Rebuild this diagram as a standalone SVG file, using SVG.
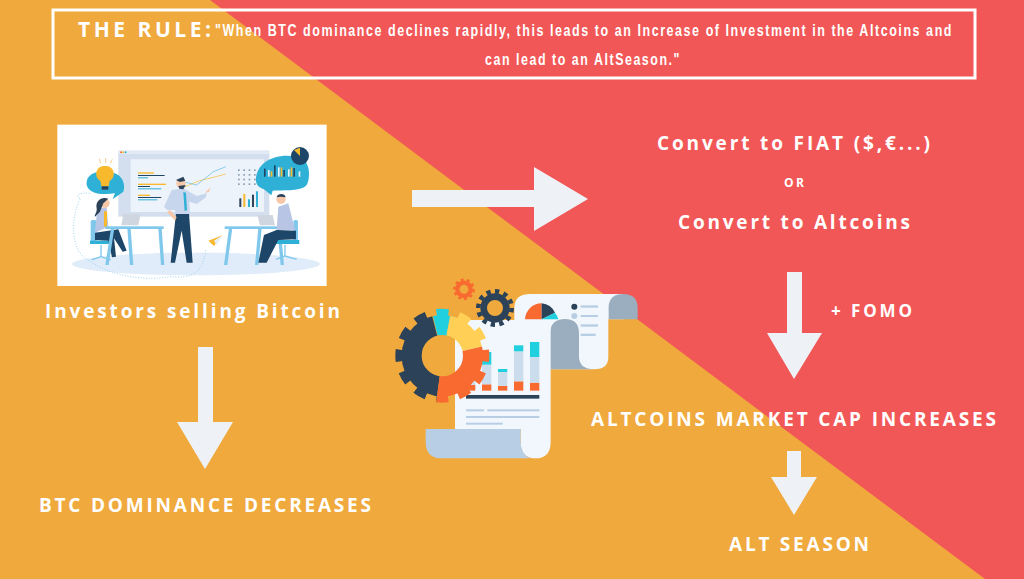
<svg xmlns="http://www.w3.org/2000/svg" width="1024" height="579" viewBox="0 0 1024 579">
<style>
.lb{font-family:"Open Sans","Liberation Sans",sans-serif;font-weight:700;fill:#fff;font-size:19px}
.q{font-family:"Liberation Sans",sans-serif;font-weight:700;fill:#fff;font-size:16px}
.arrow{fill:#EEF2F6}
.navy{fill:#1D4668}.lblue{fill:#2FB0D6}.sky{fill:#7FC8EC}.yel{fill:#F8B92C}.pale{fill:#E1ECFA}
.ink{fill:#2B4259}.or{fill:#F96A30}.cy{fill:#20D0DE}.bar{fill:#CBDDED}.gl{fill:#B8CEE4}.gr{fill:#9BAEBF}.pp{fill:#F1F7FC}
.dots{fill:none;stroke:#8CCDE8;stroke-width:2.5;stroke-dasharray:3 5}
</style>
<defs>
<clipPath id="s1"><polygon points="172,257 142,140 100,-20 -20,-20 -20,450 147,450"/></clipPath>
<clipPath id="s2"><polygon points="172,257 135,100 215,100"/></clipPath>
<clipPath id="s3"><polygon points="172,257 203,100 340,100 340,218"/></clipPath>
<clipPath id="s4"><polygon points="172,257 340,218 340,450 147,450"/></clipPath>
<g id="biggear">
<circle cx="172" cy="257" r="92" fill="none" stroke-width="60"/>
<circle cx="172" cy="257" r="130" fill="none" stroke-width="22" stroke-dasharray="36 32" stroke-dashoffset="18"/>
</g>
</defs>

<rect width="1024" height="579" fill="#F0A93C"/>
<polygon points="210,0 1024,0 1024,579 985,579" fill="#F25757"/>

<g id="rule">
<rect x="53" y="10" width="922" height="68" fill="none" stroke="#fff" stroke-width="3"/>
<text class="lb" x="78" y="37" style="font-size:21px" textLength="133">THE RULE:</text>
<text class="q" x="215" y="36" textLength="738" lengthAdjust="spacingAndGlyphs" letter-spacing="2">"When BTC dominance declines rapidly, this leads to an Increase of Investment in the Altcoins and</text>
<text class="q" x="485" y="65" textLength="196" lengthAdjust="spacingAndGlyphs" letter-spacing="2">can lead to an AltSeason."</text>
</g>

<g id="connectors">
<polygon class="arrow" points="412,190 534,190 534,167 588,199 534,231 534,207 412,207"/>
<polygon class="arrow" points="787,272 802,272 802,333 822,333 794,379 767,333 787,333"/>
<polygon class="arrow" points="198,347 213,347 213,422 233,422 205,469 177,422 198,422"/>
<polygon class="arrow" points="787,451 801,451 801,477 817,477 794,515 771,477 787,477"/>
</g>

<g id="investors">
<g transform="translate(40,110) scale(.3333)">
<rect x="52" y="44" width="808" height="484" fill="#fff"/>
<ellipse class="pale" cx="468" cy="462" rx="372" ry="34"/>
<rect x="235" y="122" width="453" height="198" fill="#D3DFEE"/>
<rect x="272" y="148" width="400" height="158" fill="#EDF3FA"/>
<rect x="235" y="122" width="453" height="10" fill="#E2EAF5"/>
<circle cx="243" cy="127" r="3" fill="#F96A30"/><circle cx="250" cy="127" r="3" fill="#F8B92C"/><circle cx="257" cy="127" r="3" fill="#2FB0D6"/>
<rect x="294" y="187" width="48" height="4" fill="#F8B92C"/><rect x="294" y="195" width="80" height="3" fill="#1D4668"/><rect x="294" y="202" width="30" height="3" fill="#2FB0D6"/>
<rect x="294" y="221" width="84" height="4" fill="#F8B92C"/><rect x="294" y="228" width="36" height="3" fill="#1D4668"/><rect x="294" y="235" width="70" height="3" fill="#2FB0D6"/>
<rect x="294" y="254" width="36" height="4" fill="#F8B92C"/><rect x="294" y="261" width="70" height="3" fill="#1D4668"/><rect x="294" y="268" width="58" height="3" fill="#2FB0D6"/>
<polyline points="430,232 480,212 520,202 558,192" fill="none" stroke="#F8B92C" stroke-width="2"/>
<polyline points="430,215 470,225 520,185 558,170" fill="none" stroke="#5FB8DE" stroke-width="2"/>
<g fill="#8A9DB2"><rect x="594" y="178" width="5" height="5"/><rect x="610" y="178" width="5" height="5"/><rect x="626" y="178" width="5" height="5"/><rect x="642" y="178" width="5" height="5"/><rect x="594" y="192" width="5" height="5"/><rect x="610" y="192" width="5" height="5"/><rect x="626" y="192" width="5" height="5"/><rect x="642" y="192" width="5" height="5"/><rect x="594" y="206" width="5" height="5"/><rect x="610" y="206" width="5" height="5"/><rect x="626" y="206" width="5" height="5"/><rect x="642" y="206" width="5" height="5"/><rect x="594" y="220" width="5" height="5"/><rect x="610" y="220" width="5" height="5"/><rect x="626" y="220" width="5" height="5"/><rect x="642" y="220" width="5" height="5"/></g>
<rect x="598" y="265" width="6" height="26" class="ink"/><rect x="610" y="252" width="6" height="39" class="yel"/><rect x="624" y="268" width="6" height="23" class="lblue"/><rect x="636" y="254" width="6" height="37" class="ink"/><rect x="648" y="244" width="6" height="47" class="lblue"/>
<path class="lblue" d="M140,215C145,185 185,180 220,188C248,195 258,225 250,245L218,268L225,250C175,258 135,245 140,215Z"/>
<path class="yel" d="M195,168a24,24 0 0 1 14,45l-3,16h-22l-3,-16a24,24 0 0 1 14,-45Z"/>
<rect x="185" y="229" width="20" height="10" class="ink"/>
<path d="M182,160l-4,-14M197,158v-14M211,160l6,-12" stroke="#F8C88A" stroke-width="3" fill="none"/>
<path class="lblue" d="M648,205C652,160 700,128 770,140C812,145 812,200 802,222C790,245 730,240 698,242L694,256L672,238C655,232 646,222 648,205Z"/>
<circle cx="780" cy="138" r="27" class="navy"/><path class="yel" d="M780,138L762,120L780,113Z"/>
<g class="navy"><rect x="672" y="176" width="5" height="24"/><rect x="702" y="166" width="5" height="34"/><rect x="730" y="180" width="5" height="20"/><rect x="760" y="174" width="5" height="26"/></g>
<g fill="#EAF2FA"><rect x="684" y="180" width="5" height="20"/><rect x="714" y="172" width="5" height="28"/><rect x="744" y="178" width="5" height="22"/><rect x="776" y="184" width="5" height="16"/></g>
<g class="yel"><rect x="692" y="184" width="5" height="16"/><rect x="722" y="172" width="5" height="28"/><rect x="752" y="172" width="5" height="28"/></g>
<path class="dots" d="M150,250C120,245 100,260 122,265C100,300 85,400 130,440C200,495 300,515 390,500C440,505 490,500 497,420"/>
<polygon points="505,392 547,376 522,408" fill="#F8B92C"/><polygon points="522,392 547,376 530,406" fill="#E6EEF6"/>
<rect x="152" y="330" width="18" height="70" rx="5" class="sky"/>
<rect x="150" y="392" width="65" height="10" class="lblue"/>
<path d="M183,405L183,440M183,440L155,450M183,440L212,450" stroke="#7FC8EC" stroke-width="4" fill="none"/>
<path class="navy" d="M165,368L235,358L260,422L248,425L222,385L228,440L216,442L205,392L165,390Z"/>
<path fill="#B9C5E4" d="M172,295L200,292L205,350L165,368Z"/>
<rect x="192" y="304" width="9" height="46" class="yel"/>
<circle cx="195" cy="280" r="14" fill="#F6C7A8"/>
<path class="ink" d="M205,266C185,258 165,272 170,295C172,308 162,315 165,320L180,305L190,280Z"/>
<path fill="#CFD6E0" d="M250,312H302L295,346H244Z"/>
<rect x="196" y="349" width="175" height="8" class="sky"/>
<path d="M213,355L196,465H206L223,355ZM262,355L270,465H280L272,355ZM355,355L363,465H373L365,355Z" class="sky"/>
<rect x="554" y="349" width="175" height="8" class="sky"/>
<path d="M567,355L552,465H562L577,355ZM655,355L645,465H655L665,355ZM712,355L722,465H732L722,355Z" class="sky"/>
<path class="navy" d="M408,310H447L458,458H440L425,362L405,458H392Z"/>
<path fill="#C7D6EC" d="M395,240L430,235L470,258L500,250L498,262L470,282L448,275L450,312H408L405,300L382,300L372,290Z"/>
<path class="lblue" d="M430,246L438,248L441,300L434,304Z"/>
<path d="M495,248L512,232L507,246Z" fill="#F6C7A8"/>
<circle cx="423" cy="220" r="14" fill="#F6C7A8"/>
<path class="ink" d="M408,210L430,200L436,212L420,216ZM415,228L437,225L430,238L418,236Z"/>
<path fill="#F6C7A8" d="M390,300L410,322L405,332L382,306Z"/>
<rect x="760" y="330" width="14" height="70" rx="5" class="sky"/>
<rect x="708" y="390" width="70" height="12" class="lblue"/>
<path d="M735,405V438M735,438L708,448M735,438L770,448" stroke="#7FC8EC" stroke-width="4" fill="none"/>
<path class="navy" d="M768,362V388L715,390L680,458H655L672,375L710,360Z"/>
<path fill="#B9C5E4" d="M715,290L745,280L765,360L710,360Z"/>
<circle cx="723" cy="268" r="14" fill="#F6C7A8"/>
<path class="ink" d="M710,262C712,250 735,248 737,262L722,260Z"/>
<path fill="#CFD6E0" d="M652,315H698L705,346H660Z"/>
</g>
<text class="lb" x="45" y="318" textLength="295">Investors selling Bitcoin</text>
</g>

<g id="documents">
<g transform="translate(385,270) scale(.3333)">
<g id="back-paper">
<path class="pp" d="M388,298V115Q388,72 435,72H715V148H670V262Q670,298 628,298Z"/>
<path class="gr" d="M671,148V110Q673,72 715,72Q758,72 758,115V148Z"/>
<path class="or" d="M420,148A50,50 0 0 1 470,100V148Z"/><path class="ink" d="M470,100A50,50 0 0 1 510,128L470,148Z"/><path class="cy" d="M510,128A50,50 0 0 1 520,148H470Z"/>
<circle cx="568" cy="110" r="9" class="ink"/><circle cx="568" cy="138" r="9" class="gl"/>
<rect x="587" y="106" width="52" height="7" class="gl"/><rect x="587" y="135" width="52" height="6" class="gl"/><rect x="587" y="163" width="52" height="7" class="gl"/><rect x="587" y="191" width="45" height="7" class="gl"/>
</g>
<g id="front-paper">
<path class="gr" d="M495,298V190Q497,147 540,147Q582,147 582,190V262Q584,298 628,298Z"/>
<path class="pp" d="M250,150H497V515Q497,565 452,565Q407,565 407,515V477H210V195Q210,150 250,150Z"/>
<path class="gl" d="M122,477H407V515Q407,552 436,565H165Q122,562 122,515Z"/>
<rect x="243" y="345" width="28" height="17" class="or"/><rect x="243" y="290" width="28" height="55" class="bar"/>
<rect x="291" y="343" width="28" height="19" class="or"/><rect x="291" y="284" width="28" height="59" class="bar"/><rect x="291" y="246" width="28" height="38" class="cy"/>
<rect x="339" y="348" width="28" height="14" class="or"/><rect x="339" y="306" width="28" height="42" class="bar"/><rect x="339" y="297" width="28" height="9" class="cy"/>
<rect x="387" y="334" width="28" height="28" class="or"/><rect x="387" y="244" width="28" height="90" class="bar"/><rect x="387" y="226" width="28" height="18" class="cy"/>
<rect x="435" y="338" width="28" height="24" class="or"/><rect x="435" y="261" width="28" height="77" class="bar"/><rect x="435" y="216" width="28" height="45" class="cy"/>
<rect x="243" y="375" width="220" height="11" class="ink"/>
<rect x="243" y="418" width="54" height="6" class="gl"/><rect x="307" y="418" width="156" height="6" class="gl"/><rect x="243" y="438" width="220" height="6" class="gl"/><rect x="243" y="458" width="110" height="6" class="gl"/>
</g>
<g id="gears">
<circle cx="237" cy="58" r="20" fill="none" stroke="#F96A30" stroke-width="13"/>
<circle cx="237" cy="58" r="29" fill="none" stroke="#F96A30" stroke-width="7" stroke-dasharray="9 9"/>
<circle cx="330" cy="114" r="34" fill="none" stroke="#2B4259" stroke-width="20"/>
<circle cx="330" cy="114" r="50" fill="none" stroke="#2B4259" stroke-width="14" stroke-dasharray="13 13"/>
<use href="#biggear" stroke="#2B4259" clip-path="url(#s1)"/>
<use href="#biggear" stroke="#20D0DE" clip-path="url(#s2)"/>
<use href="#biggear" stroke="#FFCF56" clip-path="url(#s3)"/>
<use href="#biggear" stroke="#F96A30" clip-path="url(#s4)"/>
</g>
</g>
</g>

<g id="convert">
<text class="lb" x="657" y="150" textLength="273">Convert to FIAT ($,€...)</text>
<text class="lb" x="784" y="187" style="font-size:12px" textLength="20">OR</text>
<text class="lb" x="678" y="229" textLength="232">Convert to Altcoins</text>
</g>
<g id="fomo"><text class="lb" x="831" y="317" style="font-size:17px" textLength="81">+ FOMO</text></g>
<g id="altcap"><text class="lb" x="591" y="426" textLength="405">ALTCOINS MARKET CAP INCREASES</text></g>
<g id="btcdom"><text class="lb" x="39" y="512" textLength="332">BTC DOMINANCE DECREASES</text></g>
<g id="altseason"><text class="lb" x="729" y="551" textLength="140">ALT SEASON</text></g>
</svg>
